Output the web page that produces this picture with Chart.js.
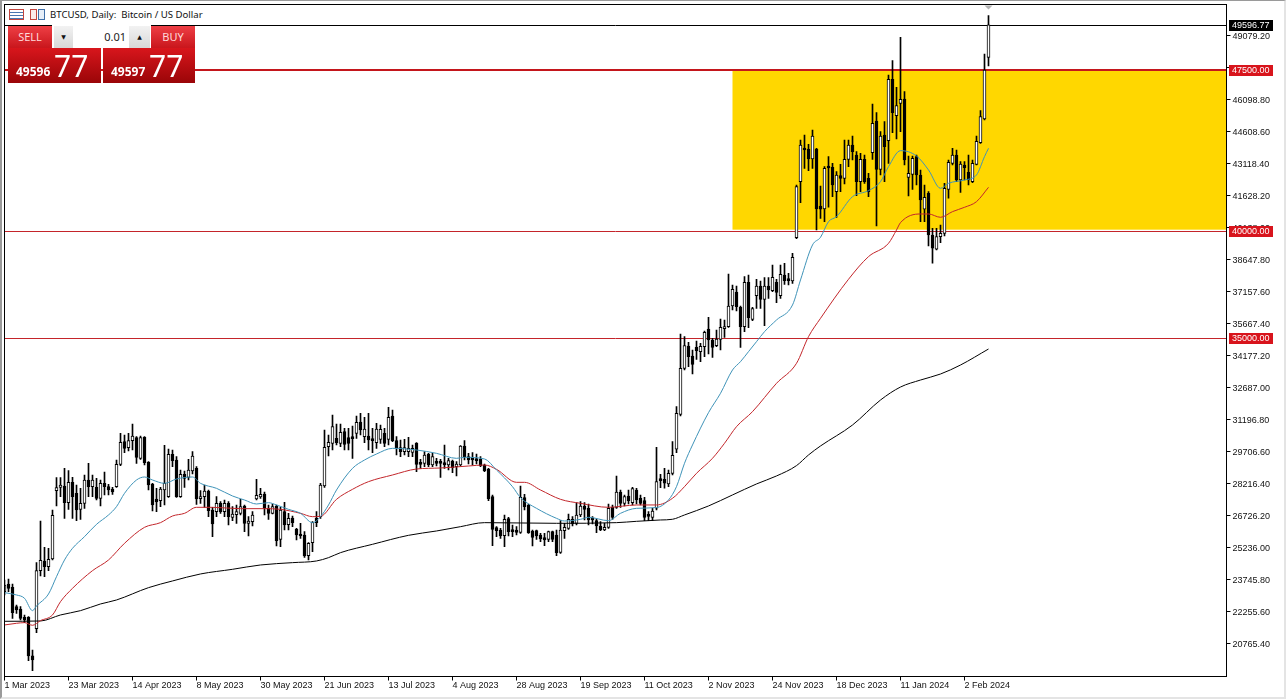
<!DOCTYPE html>
<html>
<head>
<meta charset="utf-8">
<title>BTCUSD Daily</title>
<script src="https://cdn.jsdelivr.net/npm/chart.js@4"></script>
<style>
html,body{margin:0;padding:0;background:#fff;overflow:hidden;width:1286px;height:699px;font-family:"Noto Sans",sans-serif}
canvas{position:absolute;left:0;top:0}
#edge{position:absolute;left:0;top:0;width:1286px;height:699px;box-sizing:border-box;border-left:2px solid #9a9a9a;border-top:1px solid #9a9a9a;border-right:2px solid #e4e4e4;border-bottom:2px solid #e4e4e4;pointer-events:none}
#title{position:absolute;left:50px;top:8px;font:9.6px/14px "Noto Sans",sans-serif;color:#111;white-space:pre;background:#fff;padding-right:2px}
.ic{position:absolute;top:9px;height:11px;box-sizing:border-box}
.p{position:absolute;box-sizing:border-box}
.btn{background:linear-gradient(#ee3f45,#c9161c);color:#ffd9d9;font:11px "Noto Sans",sans-serif;text-align:center;line-height:22px}
.low{background:linear-gradient(#d8161c,#9a0508);color:#fff}
.low b{position:absolute;left:8px;top:17px;font:bold 12px "Noto Sans",sans-serif;line-height:14px}
.low span{position:absolute;left:46px;top:0;font:30px "Noto Sans",sans-serif;line-height:36px}
.spin{background:linear-gradient(#f2f2f2,#d8d8d8);text-align:center;font:6px "DejaVu Sans",sans-serif;line-height:22px;color:#111}
</style>
</head>
<body>
<canvas id="c" width="1286" height="699"></canvas>
<div class="ic" style="left:9px;width:15px;border:1px solid #c2453f;background:repeating-linear-gradient(#fff 0 2px,#4a78b0 2px 3px)"></div>
<div class="ic" style="left:30px;width:7px;border:1px solid #c2453f;background:#fbeaea"></div>
<div class="ic" style="left:38px;width:7px;border:1px solid #3f6fa8;background:#e6eef8"></div>
<div id="title">BTCUSD, Daily:  Bitcoin / US Dollar</div>
<div class="p" style="left:52px;top:25px;width:99px;height:23px;background:#fff"></div>
<div class="p btn" style="left:8px;top:26px;width:44px;height:22px">SELL</div>
<div class="p spin" style="left:54px;top:26px;width:19px;height:22px">▼</div>
<div class="p" style="left:73px;top:26px;width:56px;height:22px;background:#fff;text-align:right;padding-right:3px;font:11px/22px 'Noto Sans',sans-serif;color:#222">0.01</div>
<div class="p spin" style="left:129px;top:26px;width:21px;height:22px">▲</div>
<div class="p btn" style="left:151px;top:26px;width:44px;height:22px">BUY</div>
<div class="p low" style="left:8px;top:48px;width:93px;height:35px"><b>49596</b><span>77</span></div>
<div class="p low" style="left:103px;top:48px;width:92px;height:35px"><b>49597</b><span>77</span></div>
<div id="edge"></div>
<script>
const xTickLabels = ['1 Mar 2023','23 Mar 2023','14 Apr 2023','8 May 2023','30 May 2023','21 Jun 2023','13 Jul 2023','4 Aug 2023','28 Aug 2023','19 Sep 2023','11 Oct 2023','2 Nov 2023','24 Nov 2023','18 Dec 2023','11 Jan 2024','2 Feb 2024'];
const yTicks = [49079.20,47589.00,46098.80,44608.60,43118.40,41628.20,40138.00,38647.80,37157.60,35667.40,34177.20,32687.00,31196.80,29706.60,28216.40,26726.20,25236.00,23745.80,22255.60,20765.40];

const opens = [23203,23560,23405,22505,22396,22008,22008,20208,21480,24181,24631,24367,24724,27906,28061,28123,27347,28294,27781,27036,
27316,28402,28092,28061,27549,28247,28092,27983,28092,29132,30187,29908,30234,30373,29411,30389,29225,28216,27518,27440,
27937,27626,29597,29333,27626,28666,28526,28821,28945,27533,27626,27890,27005,26928,27316,26928,27316,26664,26788,26850,
27192,26385,26462,27518,27611,27751,27083,26850,27192,25640,26928,26323,26633,26105,25872,25841,24879,25484,26617,26695,
28123,29954,30109,30342,30109,30653,30373,30389,30575,31103,30420,30451,30296,30140,30296,30575,30296,31382,30234,29908,
29721,29721,29690,30109,29209,29178,29597,29101,29240,29225,29209,29101,29287,29023,29101,29985,29489,29458,29380,29380,
29101,28914,27626,26183,26074,25810,26602,26043,26074,25966,27580,27238,26028,26043,25841,25717,25640,25997,25841,25034,
26043,26152,26571,26385,26773,27192,27083,26586,26509,26261,26074,26198,27130,27130,27844,27316,27657,27347,27937,27549,
27440,26773,26664,27085,28435,28435,28218,28714,29832,31461,33603,34643,34177,34581,34379,34612,35435,34922,34659,34953,
35450,35543,36505,37157,36443,35543,37607,35885,36987,37437,36816,37437,37219,37607,36987,37949,37716,37669,39689,42297,
43849,43818,43352,43818,41164,41024,42995,42964,41831,42576,42452,43336,44004,43538,42297,43336,42452,43647,45121,42871,
44469,44206,47061,45370,45944,46146,42498,42638,43461,42607,41009,41753,39813,39146,39736,39891,41940,43150,43538,42374,
43073,42731,42297,43104,44112,45214,48086];
const highs = [23746,23793,23560,22582,22505,22117,22039,20487,24553,26493,25267,25221,27005,28511,28511,28945,28837,28526,28169,28014,
28635,29178,28635,28480,28402,28775,28200,28061,29333,30575,30497,30575,31010,30420,30451,30420,29256,28247,28014,28061,
30016,29845,29799,29489,28868,28821,29364,29721,29023,27906,28169,27937,27130,27626,27393,27471,27393,27161,27238,27502,
27238,26695,26928,28433,28014,27844,27238,27285,27238,27130,27362,26850,26726,26152,26385,25997,25484,26462,26928,28247,
30730,30497,31429,31010,31010,30808,30808,30916,31382,31506,31320,31506,30808,31041,30963,30808,31786,31661,30420,30265,
30296,30389,30032,30140,29364,29721,29644,29644,29411,29364,30032,29411,29333,29256,30001,30234,29644,29675,29613,29489,
29147,28945,27704,26229,26152,26773,26664,26307,26229,28123,27735,27285,26074,26074,25919,25919,26028,26028,26074,26509,
26385,26819,26695,27347,27393,27347,27285,26695,26571,26462,26385,27285,27238,28588,27937,27704,27937,28061,28014,27704,
27595,26928,27083,29925,28668,28947,28869,30189,31818,35202,35078,34814,34457,34876,34767,35341,35978,35000,35388,35900,
35854,37995,37483,37437,36505,37871,37949,36443,37747,37669,37825,37825,38414,37747,38414,38492,38026,38958,42141,44237,
44469,44035,44702,43849,42095,42995,43461,43150,42762,43104,44237,44237,44423,43693,43616,43538,42685,45913,45509,44625,
45090,47263,47930,46689,49017,46487,43492,43492,43538,42840,42141,41831,40124,40124,40279,42219,43305,43849,43771,43228,
43228,43538,43305,44423,45602,48241,50026];
const lows = [23048,23203,21961,22194,21884,21760,19990,19525,21294,23933,23901,24181,24677,27192,27626,26617,27036,26617,26509,26571,
27083,27626,27626,27471,27192,27704,27704,27735,28061,29070,29675,29752,29799,29178,29364,29101,27937,26959,26928,27161,
27238,27595,29023,27595,27595,28061,28402,28682,27269,27316,27130,26695,25764,26695,26850,26695,26307,26509,26385,26773,
25997,25795,26260,27471,27549,26773,26571,26819,25329,25298,26074,26074,26229,25609,25686,24802,24677,25066,26229,26617,
28061,29520,29799,30032,29954,29799,29799,29411,30342,30497,30140,29799,29675,29877,30109,29954,30032,30187,29566,29489,
29566,29489,29489,28790,28945,29023,29023,29023,29054,28526,28945,28868,28744,28588,29054,29333,29147,29101,29147,29023,
28790,27440,25345,25764,25686,25298,25795,25764,25841,25919,27005,25919,25329,25640,25531,25345,25531,25531,24879,24988,
25686,26105,26260,26307,26695,26540,26307,26354,25950,26043,26043,26152,26571,27083,27130,27192,27285,27238,27285,27238,
26509,26509,26509,27007,28047,28016,28094,28637,29677,31384,33526,33681,33340,34022,33914,34146,34271,34115,34612,34457,
35047,35512,36319,36273,34581,35310,35497,35823,36397,36397,35590,36862,37173,36661,36862,37514,37483,37561,39643,41319,
42917,42809,42917,40046,40589,40434,41102,41598,40636,41831,42188,42995,43305,41645,41831,42219,41598,43336,40232,42607,
42297,43150,44578,44283,44625,43073,41629,41940,42141,40434,40434,39301,38494,39115,39456,39767,41521,43073,42297,41800,
42374,42141,42250,43073,44082,45168,47682];
const closes = [23513,23358,22225,22349,21961,21884,20208,20021,24181,24662,24367,24708,26757,28045,28169,27347,28294,27626,27005,27316,
28402,28092,28402,27549,28247,28092,27937,27844,29132,30156,29877,30234,30451,29458,30373,29209,28169,27238,27378,27983,
28247,29597,29302,27626,28666,28480,28868,29520,27518,27626,27890,26974,26354,27316,26928,27316,26695,26819,26928,27161,
26385,26493,26773,27688,27735,27083,26850,27161,25578,27005,26307,26617,26416,25841,25795,24864,25454,26431,26416,28169,
29923,30156,30885,30140,30622,30063,30109,30327,31087,30730,30777,30265,30234,30777,30761,30109,31320,30234,29877,29721,
29908,29877,29877,29132,29132,29566,29101,29489,29178,29178,29101,29302,28976,29147,29985,29489,29333,29333,29302,29070,
28837,27533,26105,26043,25795,26571,25997,25997,25966,27595,27161,25950,25733,25795,25655,25609,25997,25640,25019,26074,
26198,26571,26354,26773,27192,27036,26540,26540,26261,26074,26198,27083,26664,27844,27316,27626,27440,27999,27471,27316,
26664,26711,26959,28326,28373,28249,28714,29553,31508,33603,34659,34146,33790,34426,34628,35279,34922,34581,34969,35512,
35543,36505,37281,36474,35543,37607,35962,36381,37437,36816,37437,37250,37840,37142,37980,37685,37685,38771,42064,44004,
43771,43352,44423,41024,41009,42917,42933,42141,42607,42452,43336,44004,43693,42297,43336,42297,41831,45013,42871,44423,
43926,47061,45509,45835,46130,43305,42685,43383,42607,41443,41567,39813,39193,39736,39891,41986,43197,43538,42374,43119,
42949,42374,43150,44174,45323,47496,49596.77];

const blueIdx = [0,3,5,7,8,11,13,15,17,20,23,26,28,30,33,35,37,40,43,47,49,53,57,60,63,66,68,71,74,77,79,81,83,87,90,93,97,103,108,113,115,120,123,127,129,133,138,140,144,146,151,154,158,163,166,168,170,172,176,179,182,184,186,188,190,193,197,199,202,204,206,208,212,216,219,221,224,228,231,234,236,240,243,245,246];
const blueVal = [23156,23048,22893,22318,22536,23094,23901,24677,25221,25764,26338,26773,27161,27781,28402,28542,28402,28247,28449,28542,28247,28014,27657,27471,27285,27347,27238,27036,26850,26416,26695,27238,27937,28945,29333,29613,29877,29799,29644,29411,29458,29380,28868,28092,27580,27083,26617,26493,26571,26664,26509,26850,27083,27120,27473,28094,29180,30034,31539,32439,33526,33914,34379,34845,35310,35854,36552,37718,39348,39705,40434,40667,41598,41878,42297,42995,43740,43492,42840,41986,42219,42374,42607,43461,43849];
const redIdx = [0,3,5,7,9,12,14,17,22,26,30,35,39,42,45,48,52,59,65,69,74,77,79,83,87,91,97,103,109,116,120,123,128,130,134,139,144,151,158,163,167,170,173,177,180,183,187,193,198,201,204,211,216,221,223,224,229,231,234,237,240,243,246];
const redVal = [21651,21729,21760,21636,21853,22117,22737,23358,24181,24677,25454,26198,26416,26726,26850,27130,27130,27067,27067,27036,26850,26695,26710,27502,27968,28325,28635,28914,28961,29054,29101,28899,28294,28294,27937,27502,27316,27130,27238,27240,27550,28094,28714,29413,30111,30887,31586,32905,33836,35078,35931,37749,38805,39425,40046,40388,40791,40791,40636,40900,41102,41365,42033];
const blackIdx = [0,9,14,19,24,28,36,42,49,57,64,72,78,81,84,92,101,108,114,120,138,153,158,164,167,170,176,182,188,193,198,201,204,212,219,224,229,234,239,246];
const blackVal = [21822,21837,22117,22318,22629,22815,23389,23700,24026,24243,24445,24553,24631,24786,25019,25407,25826,26028,26229,26416,26385,26416,26478,26540,26573,26774,27193,27706,28218,28590,29072,29568,29987,30963,32127,32732,33058,33338,33757,34502];

const lastPrice = 49596.77;
const levels = [47500, 40000, 35000];
const zoneHigh = 47500, zoneLow = 40060, zoneStart = 182;
const axisTop = 50546, axisBottom = 19251, xSpan = 305.5;

const pts = (idx, val) => idx.map((x, k) => ({x, y: val[k]}));
const fmt = v => v.toFixed(2);

const annot = {
  id: 'annot',
  beforeDatasetsDraw(ch) {
    const {ctx, chartArea: a, scales: {x, y}} = ch;
    ctx.save();
    ctx.fillStyle = '#FFD700';
    const zx = x.getPixelForValue(zoneStart) , zt = y.getPixelForValue(zoneHigh), zb = y.getPixelForValue(zoneLow);
    ctx.fillRect(zx, zt, a.right - zx, zb - zt);
    const line = (v, col, w) => {
      const p = Math.round(y.getPixelForValue(v)) + (w % 2 ? .5 : 0);
      ctx.strokeStyle = col; ctx.lineWidth = w;
      ctx.beginPath(); ctx.moveTo(a.left, p); ctx.lineTo(a.right, p); ctx.stroke();
    };
    line(lastPrice, '#000', 1);
    line(levels[0], '#c4161c', 2);
    line(levels[1], '#c4242a', 1);
    line(levels[2], '#c4242a', 1);
    ctx.restore();
  },
  afterDraw(ch) {
    const {ctx, chartArea: a, scales: {x, y}} = ch;
    ctx.save();
    ctx.strokeStyle = '#000'; ctx.lineWidth = 1;
    ctx.strokeRect(a.left, a.top, a.right - a.left, a.bottom - a.top);
    ctx.fillStyle = '#b4b4b4';
    const lx = x.getPixelForValue(246);
    ctx.beginPath(); ctx.moveTo(lx - 4, a.top + 1); ctx.lineTo(lx + 4, a.top + 1); ctx.lineTo(lx, a.top + 5); ctx.closePath(); ctx.fill();
    const tag = (v, bg, fg) => {
      const p = Math.round(y.getPixelForValue(v));
      ctx.fillStyle = bg; ctx.fillRect(1229, p - 5, 44, 11);
      ctx.fillStyle = fg; ctx.font = '9px "Liberation Sans"'; ctx.textBaseline = 'middle'; ctx.textAlign = 'left';
      ctx.fillText(fmt(v), 1232, p + .5);
    };
    tag(lastPrice, '#000', '#fff');
    tag(levels[0], '#d8141c', '#fff');
    tag(levels[1], '#d8141c', '#fff');
    tag(levels[2], '#d8141c', '#fff');
    ctx.restore();
  }
};

new Chart(document.getElementById('c'), {
  type: 'bar',
  plugins: [annot],
  data: {
    datasets: [
      {type:'line', label:'MA fast', data: pts(blueIdx, blueVal), borderColor:'#3f93b8', borderWidth:1, pointRadius:0, cubicInterpolationMode:'monotone', order:1},
      {type:'line', label:'MA mid', data: pts(redIdx, redVal), borderColor:'#c2262b', borderWidth:1, pointRadius:0, cubicInterpolationMode:'monotone', order:1},
      {type:'line', label:'MA slow', data: pts(blackIdx, blackVal), borderColor:'#000', borderWidth:1, pointRadius:0, cubicInterpolationMode:'monotone', order:1},
      {label:'Bodies', data: opens.map((o, i) => ({x:i, y:[o, closes[i]]})), grouped:false, barThickness:3, minBarLength:2, borderWidth:1, borderSkipped:false, borderColor:'#000',
        backgroundColor: opens.map((o, i) => closes[i] >= o ? '#fff' : '#000'), order:2},
      {label:'Wicks', data: lows.map((l, i) => ({x:i, y:[l, highs[i]]})), grouped:false, barThickness:1, borderWidth:0, backgroundColor:'#000', order:3}
    ]
  },
  options: {
    responsive:false, animation:false, events:[],
    layout:{padding:{left:4.5, top:4.5, right:0, bottom:0}},
    plugins:{legend:{display:false}, tooltip:{enabled:false}},
    scales:{
      x:{type:'linear', offset:false, min:0, max:xSpan, afterFit(s){s.height=22.5; s.paddingLeft=0; s.paddingRight=0;},
        afterBuildTicks(s){s.ticks = xTickLabels.map((_, k) => ({value:k*16}));},
        grid:{drawOnChartArea:false, offset:false, color:'#000', tickLength:4, tickWidth:1}, border:{display:false},
        ticks:{autoSkip:false, maxRotation:0, align:'start', padding:0, color:'#111', font:{family:'Liberation Sans', size:9}, callback:v => xTickLabels[v/16]}},
      y:{type:'linear', position:'right', offset:false, min:axisBottom, max:axisTop, afterFit(s){s.width=59.5; s.paddingTop=0; s.paddingBottom=0;},
        afterBuildTicks(s){s.ticks = yTicks.map(value => ({value}));},
        grid:{drawOnChartArea:false, color:'#000', tickLength:4, tickWidth:1}, border:{display:false},
        ticks:{autoSkip:false, padding:2, labelOffset:1, color:'#111', font:{family:'Liberation Sans', size:9}, callback:v => fmt(v)}}
    }
  }
});
</script>
</body>
</html>
